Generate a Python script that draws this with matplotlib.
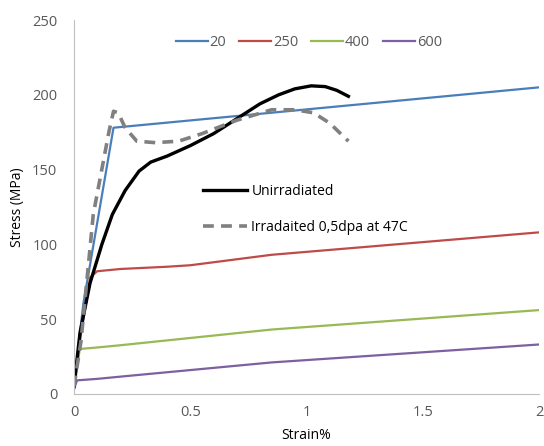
import matplotlib.pyplot as plt
from matplotlib.lines import Line2D

plt.rcParams['font.family'] = ['Open Sans', 'DejaVu Sans']

# temperature series (strain %, stress MPa)
strain_20 = [0.0, 0.04, 0.17, 2.0]
stress_20 = [5, 60, 178, 205]
strain_250 = [0.0, 0.03, 0.07, 0.1, 0.2, 0.4, 0.5, 0.85, 2.0]
stress_250 = [5, 40, 78, 82, 83.5, 85, 86, 93, 108]
strain_400 = [0.0, 0.025, 0.1, 0.2, 0.85, 2.0]
stress_400 = [3, 30, 31, 32.5, 43, 56]
strain_600 = [0.0, 0.013, 0.1, 0.2, 0.85, 2.0]
stress_600 = [3, 9, 10, 11.5, 21, 33]

strain_unirr = [0.0, 0.026, 0.069, 0.12, 0.165, 0.22, 0.28, 0.33, 0.4, 0.5, 0.6, 0.7,
                0.8, 0.88, 0.95, 1.02, 1.08, 1.13, 1.18]
stress_unirr = [5, 41, 74, 100, 120, 136, 149, 155, 159, 166, 174, 184,
                194, 200, 204, 206, 205.5, 203, 199]
strain_irr = [0.0, 0.03, 0.083, 0.15, 0.17, 0.19, 0.22, 0.27, 0.35, 0.45, 0.55,
              0.7, 0.85, 0.95, 1.03, 1.1, 1.18]
stress_irr = [5, 35, 120, 175, 189, 188, 178, 169, 168, 169, 174,
              183, 190, 190, 188, 181, 169]

temp_labels = ['20', '250', '400', '600']
temp_colors = ['#4a7ebb', '#be4b48', '#98b954', '#7d60a0']

fig = plt.figure(figsize=(5.44, 4.46), dpi=100)
ax = fig.add_axes([0.136, 0.117, 0.855, 0.838])

series = [(strain_20, stress_20), (strain_250, stress_250),
          (strain_400, stress_400), (strain_600, stress_600)]
temp_lines = []
for (xs, ys), lab, col in zip(series, temp_labels, temp_colors):
    ln, = ax.plot(xs, ys, color=col, lw=1.6, label=lab)
    temp_lines.append(ln)

ln_u, = ax.plot(strain_unirr, stress_unirr, color='black', lw=2.4, label='Unirradiated')
ln_i, = ax.plot(strain_irr, stress_irr, color='#808080', lw=2.6, ls=(0, (3, 2)),
                label='Irradaited 0,5dpa at 47C')

ax.set_xlim(0, 2)
ax.set_ylim(0, 250)
ax.set_xticks([0, 0.5, 1, 1.5, 2])
ax.set_xticklabels(['0', '0.5', '1', '1.5', '2'])
ax.set_yticks([0, 50, 100, 150, 200, 250])
for s in ['top', 'right']:
    ax.spines[s].set_visible(False)
for s in ['left', 'bottom']:
    ax.spines[s].set_color('#bfbfbf')
ax.tick_params(length=0, labelsize=10.5, labelcolor='#595959')
ax.tick_params(axis='x', pad=8)
ax.tick_params(axis='y', pad=12)
ax.set_xlabel('Strain%', fontsize=10, labelpad=6)
ax.set_ylabel('Stress (MPa)', fontsize=10, labelpad=5)

leg1 = ax.legend(handles=temp_lines, loc='upper center', bbox_to_anchor=(0.505, 0.995),
                 ncol=4, frameon=False, fontsize=10.5, handlelength=2.2,
                 handletextpad=0.1, columnspacing=0.9, labelcolor='#595959')
ax.add_artist(leg1)

ax.legend(handles=[ln_u, ln_i], loc='upper left', bbox_to_anchor=(0.25, 0.595),
          frameon=False, fontsize=10, handlelength=3.2, handletextpad=0.3,
          labelspacing=1.5)

fig.savefig('out.png', dpi=100)
